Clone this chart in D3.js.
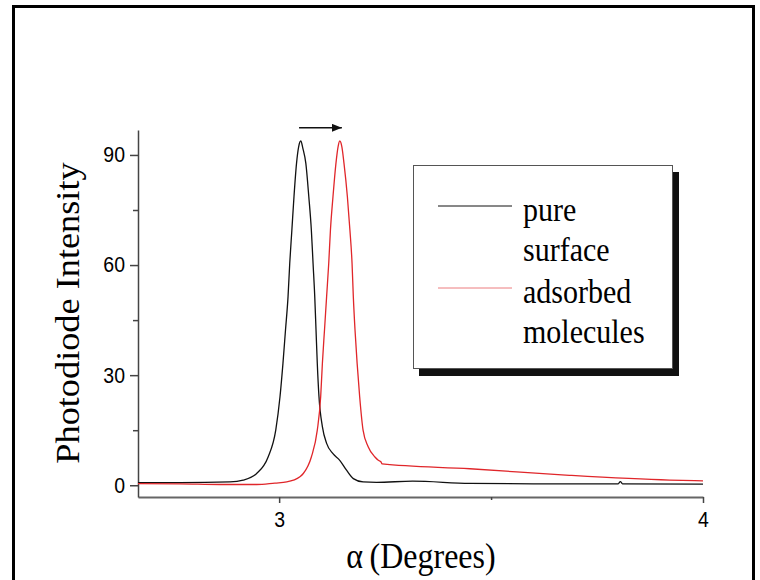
<!DOCTYPE html>
<html>
<head>
<meta charset="utf-8">
<script src="https://cdn.jsdelivr.net/npm/d3@7/dist/d3.min.js"></script>
<style>
  body { margin: 0; background: #fff; }
</style>
</head>
<body>
<svg id="chart" width="760" height="580"></svg>
<script>
// pure surface scan
var pureX = [2.667, 2.766, 2.884, 2.915, 2.947, 2.974, 2.992, 3.002, 3.009, 3.015, 3.021, 3.025, 3.030, 3.035, 3.041, 3.046, 3.051, 3.056, 3.063, 3.070, 3.076, 3.080, 3.084, 3.087, 3.090, 3.094, 3.102, 3.112, 3.127, 3.143, 3.159, 3.175, 3.198, 3.230, 3.315, 3.450, 3.600, 3.800, 3.805, 3.810, 4.000];
var pureY = [0.7, 0.7, 0.9, 1.4, 3.2, 7.7, 15, 24.1, 33.2, 42.3, 51.4, 60.5, 69.5, 78.6, 87.7, 92.2, 93.8, 91.8, 87.7, 78.6, 69.5, 60.5, 51.4, 42.3, 33.2, 24.1, 16, 11.4, 8.6, 6.8, 4.1, 1.8, 0.9, 0.8, 1.1, 0.5, 0.4, 0.4, 1.0, 0.4, 0.3];

// adsorbed molecules scan
var adsX = [2.667, 2.766, 2.860, 2.947, 2.990, 3.018, 3.049, 3.057, 3.076, 3.090, 3.098, 3.102, 3.107, 3.112, 3.117, 3.121, 3.127, 3.134, 3.139, 3.143, 3.148, 3.153, 3.161, 3.167, 3.172, 3.175, 3.179, 3.184, 3.190, 3.198, 3.210, 3.226, 3.234, 3.240, 3.243, 3.450, 3.685, 3.921, 4.000];
var adsY = [0.45, 0.4, 0.2, 0.2, 0.6, 0.9, 2.3, 3.2, 7.7, 15, 24.1, 33.2, 42.3, 51.4, 60.5, 69.5, 78.6, 87.7, 92.2, 93.8, 92.2, 87.7, 78.6, 69.5, 60.5, 51.4, 42.3, 33.2, 24.1, 15, 10.5, 7.7, 6.8, 6.4, 5.8, 4.5, 2.7, 1.4, 1.2];

var xTicks = [3, 4];
var xMinorTicks = [3.5];
var yTicks = [0, 30, 60, 90];
var yMinorTicks = [15, 45, 75];
var legendNames = [['pure', 'surface'], ['adsorbed', 'molecules']];
var legendColors = ['#111', '#e0262a'];
var arrowFrom = [3.047, 97.4];
var arrowTo = [3.148, 97.4];

var svg = d3.select('#chart');
var serif = '"Liberation Serif", "Times New Roman", serif';
var sans = '"Liberation Sans", Arial, sans-serif';

// outer frame
svg.append('rect')
  .attr('x', 13.5).attr('y', 6.5)
  .attr('width', 740).attr('height', 620)
  .attr('fill', 'none')
  .attr('stroke', '#000')
  .attr('stroke-width', 3);

var x = d3.scaleLinear().domain([2.667, 4]).range([138, 703]);
var y = d3.scaleLinear().domain([-3.2, 96.8]).range([497, 130]);

// axes
var xAxis = svg.append('g')
  .attr('transform', 'translate(0,' + y.range()[0] + ')')
  .call(d3.axisBottom(x).tickValues(xTicks).tickSize(6).tickSizeOuter(0).tickPadding(7).tickFormat(d3.format('d')));
svg.append('g')
  .attr('transform', 'translate(0,' + y.range()[0] + ')')
  .call(d3.axisBottom(x).tickValues(xMinorTicks).tickSize(3).tickSizeOuter(0).tickFormat(''))
  .select('.domain').remove();

var yAxis = svg.append('g')
  .attr('transform', 'translate(' + x.range()[0] + ',0)')
  .call(d3.axisLeft(y).tickValues(yTicks).tickSize(8).tickSizeOuter(0).tickPadding(5).tickFormat(d3.format('d')));
svg.append('g')
  .attr('transform', 'translate(' + x.range()[0] + ',0)')
  .call(d3.axisLeft(y).tickValues(yMinorTicks).tickSize(5).tickSizeOuter(0).tickFormat(''))
  .select('.domain').remove();

svg.selectAll('.domain, .tick line')
  .attr('stroke', '#444')
  .attr('stroke-width', 1.5);
xAxis.select('.domain').attr('stroke', '#666').attr('stroke-width', 2.2);

[xAxis, yAxis].forEach((ax) => {
  ax.selectAll('text')
    .attr('font-family', sans)
    .attr('font-size', 19.5)
    .attr('fill', '#000')
    .attr('transform', 'scale(1,1.1)');
});

// curves
var line = d3.line()
  .x((d) => x(d[0]))
  .y((d) => y(d[1]))
  .curve(d3.curveMonotoneX);

var series = [
  { xs: pureX, ys: pureY, color: legendColors[0] },
  { xs: adsX, ys: adsY, color: legendColors[1] }
];

svg.selectAll('path.curve')
  .data(series)
  .enter().append('path')
  .attr('class', 'curve')
  .attr('d', (s) => line(s.xs.map((v, i) => [v, s.ys[i]])))
  .attr('fill', 'none')
  .attr('stroke', (s) => s.color)
  .attr('stroke-width', 1.3);

// shift arrow
svg.append('defs').append('marker')
  .attr('id', 'head')
  .attr('viewBox', '0 0 10 8')
  .attr('refX', 10).attr('refY', 4)
  .attr('markerWidth', 10).attr('markerHeight', 8)
  .attr('markerUnits', 'userSpaceOnUse')
  .attr('orient', 'auto')
  .append('path')
  .attr('d', 'M0,0L10,4L0,8Z')
  .attr('fill', '#111');

svg.append('line')
  .attr('x1', x(arrowFrom[0])).attr('y1', y(arrowFrom[1]))
  .attr('x2', x(arrowTo[0])).attr('y2', y(arrowTo[1]))
  .attr('stroke', '#111')
  .attr('stroke-width', 1.5)
  .attr('marker-end', 'url(#head)');

// axis titles
svg.append('text')
  .attr('transform', 'translate(421,568) scale(1,1.1)')
  .attr('text-anchor', 'middle')
  .attr('font-family', serif)
  .attr('font-size', 32)
  .text('\u03b1\u2009(Degrees)');

svg.append('text')
  .attr('transform', 'translate(79,313) scale(1,1.1) rotate(-90)')
  .attr('text-anchor', 'middle')
  .attr('font-family', serif)
  .attr('font-size', 33)
  .text('Photodiode Intensity');

// legend
var legend = svg.append('g');
legend.append('rect')
  .attr('x', 419).attr('y', 172)
  .attr('width', 260).attr('height', 204)
  .attr('fill', '#111');
legend.append('rect')
  .attr('x', 413.5).attr('y', 165.5)
  .attr('width', 259).attr('height', 203)
  .attr('fill', '#fff')
  .attr('stroke', '#555')
  .attr('stroke-width', 1);

var entry = legend.selectAll('g.entry')
  .data(legendNames)
  .enter().append('g')
  .attr('class', 'entry')
  .attr('transform', (d, i) => 'translate(0,' + (i * 82) + ')');

entry.append('line')
  .attr('x1', 438).attr('x2', 512)
  .attr('y1', 206).attr('y2', 206)
  .attr('stroke', (d, i) => legendColors[i])
  .attr('stroke-opacity', (d, i) => i ? 0.6 : 1)
  .attr('stroke-width', 1);

entry.selectAll('text')
  .data((d) => d)
  .enter().append('text')
  .attr('transform', (d, j) => 'translate(523,' + (221 + j * 40) + ') scale(1,1.1)')
  .attr('font-family', serif)
  .attr('font-size', 30)
  .attr('fill', '#000')
  .text((d) => d);
</script>
</body>
</html>
